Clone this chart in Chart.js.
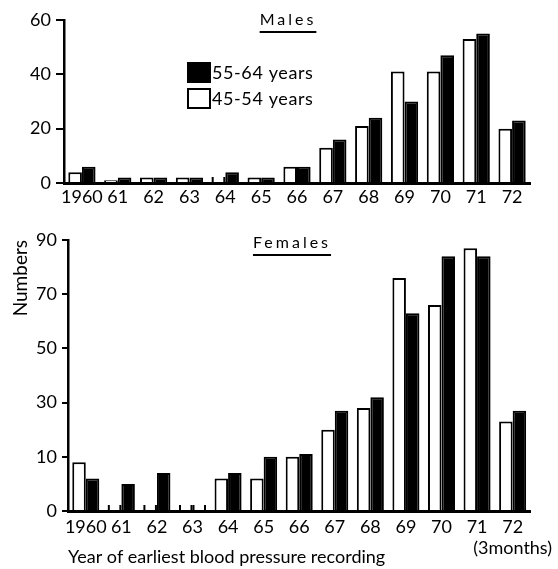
<!DOCTYPE html>
<html><head><meta charset="utf-8">
<script src="https://cdn.jsdelivr.net/npm/chart.js@4/dist/chart.umd.min.js"></script>
<style>
html,body{margin:0;padding:0;background:#fff;}
#wrap{position:relative;width:558px;height:569px;overflow:hidden;}
#male{position:absolute;left:0;top:0;}
#female{position:absolute;left:0;top:205px;}
</style></head><body>
<div id="wrap">
<canvas id="male" width="558" height="210"></canvas>
<canvas id="female" width="558" height="364"></canvas>
</div>
<script>
// ---- data ----
const years = ['1960','61','62','63','64','65','66','67','68','69','70','71','72'];
const lastYearNote = '(3months)';
const seriesLabels = ['45-54 years', '55-64 years'];
const male45 = [4, 1, 2, 2, 0, 2, 6, 13, 21, 41, 41, 53, 20];
const male55 = [6, 2, 2, 2, 4, 2, 6, 16, 24, 30, 47, 55, 23];
const female45 = [9, 0, 0, 0, 6, 6, 10, 20, 28, 76, 66, 87, 23];
const female55 = [6, 5, 7, 0, 7, 10, 11, 27, 32, 63, 84, 84, 27];
const maleTicks = [0, 20, 40, 60];
const femaleTicks = [0, 10, 30, 50, 70, 90];

// female axis in the original is evenly spaced between unevenly valued ticks
function toFemalePos(v) {
  for (let i = 0; i < femaleTicks.length - 1; i++) {
    if (v <= femaleTicks[i + 1]) return i + (v - femaleTicks[i]) / (femaleTicks[i + 1] - femaleTicks[i]);
  }
  return femaleTicks.length - 1;
}

const FONT = 'Lato, "Open Sans", sans-serif';
Chart.defaults.font.family = FONT;
Chart.defaults.color = '#000';
Chart.defaults.animation = false;

function titlePlugin(text, dy) {
  return {
    id: 'panelTitle',
    afterDraw(chart) {
      const ctx = chart.ctx, a = chart.chartArea;
      ctx.save();
      ctx.font = '16px ' + FONT;
      if ('letterSpacing' in ctx) ctx.letterSpacing = '3px';
      ctx.fillStyle = '#000';
      ctx.textAlign = 'center';
      ctx.textBaseline = 'middle';
      const cx = a.left + 224;
      const cy = a.top + dy;
      ctx.fillText(text, cx, cy);
      const w = ctx.measureText(text).width;
      ctx.strokeStyle = '#000';
      ctx.lineWidth = 2;
      ctx.beginPath();
      ctx.moveTo(cx - w / 2, cy + 12);
      ctx.lineTo(cx + w / 2, cy + 12);
      ctx.stroke();
      ctx.restore();
    }
  };
}

const legendPlugin = {
  id: 'boxLegend',
  afterDraw(chart) {
    const ctx = chart.ctx, a = chart.chartArea;
    const ds = chart.data.datasets.slice().reverse();
    ctx.save();
    ctx.font = '18px ' + FONT;
    if ('letterSpacing' in ctx) ctx.letterSpacing = '0.6px';
    ctx.textBaseline = 'middle';
    ctx.textAlign = 'left';
    ds.forEach((d, i) => {
      const x = a.left + 124, y = a.top + 43 + i * 26;
      ctx.fillStyle = d.backgroundColor;
      ctx.fillRect(x, y, 22, 19);
      ctx.strokeStyle = '#000';
      ctx.lineWidth = 2;
      ctx.strokeRect(x, y, 22, 19);
      ctx.fillStyle = '#000';
      ctx.fillText(d.label, x + 24, y + 10);
    });
    ctx.restore();
  }
};

// zero-valued bars are marked in the original by short stubs at the bar edges
const zeroStubPlugin = {
  id: 'zeroStubs',
  afterDatasetsDraw(chart) {
    const ctx = chart.ctx;
    ctx.save();
    ctx.strokeStyle = '#000';
    ctx.lineWidth = 2;
    chart.data.datasets.forEach((d, di) => {
      const meta = chart.getDatasetMeta(di);
      d.raw.forEach((v, i) => {
        if (v !== 0) return;
        const el = meta.data[i];
        const half = el.width / 2;
        [el.x - half + 1, el.x + half - 1].forEach(x => {
          ctx.beginPath();
          ctx.moveTo(x, el.base);
          ctx.lineTo(x, el.base - 6);
          ctx.stroke();
        });
      });
    });
    ctx.restore();
  }
};

function barSets(a, b, tf) {
  return [
    { label: seriesLabels[0], data: a.map(tf), raw: a, backgroundColor: '#fff', borderColor: '#000', borderWidth: 2,
      categoryPercentage: 0.76, barPercentage: 1.0 },
    { label: seriesLabels[1], data: b.map(tf), raw: b, backgroundColor: '#000', borderColor: '#000', borderWidth: 2,
      categoryPercentage: 0.76, barPercentage: 1.0 }
  ];
}

const tickFont = { size: 18, family: FONT };

new Chart(document.getElementById('male'), {
  type: 'bar',
  data: { labels: years, datasets: barSets(male45, male55, v => v) },
  options: {
    responsive: false,
    layout: { padding: { left: 0, right: 28, top: 20, bottom: 0 } },
    plugins: { legend: { display: false }, tooltip: { enabled: false } },
    scales: {
      x: {
        grid: { display: false, drawTicks: false },
        border: { display: true, color: '#000', width: 3 },
        ticks: { font: tickFont, padding: 3, maxRotation: 0, autoSkip: false },
        afterFit(s) { s.height = 27; }
      },
      y: {
        min: 0, max: maleTicks[maleTicks.length - 1],
        afterBuildTicks(s) { s.ticks = maleTicks.map(v => ({ value: v })); },
        grid: { drawOnChartArea: false, drawTicks: true, tickLength: 8, color: '#000', lineWidth: 2 },
        border: { display: true, color: '#000', width: 2.5 },
        ticks: { font: tickFont, padding: 5 },
        afterFit(s) { s.width = 64; }
      }
    }
  },
  plugins: [titlePlugin('Males', 0), legendPlugin, zeroStubPlugin]
});

const femaleLabels = years.map((y, i) => i === years.length - 1 ? [y, lastYearNote] : y);

new Chart(document.getElementById('female'), {
  type: 'bar',
  data: { labels: femaleLabels, datasets: barSets(female45, female55, toFemalePos) },
  options: {
    responsive: false,
    layout: { padding: { left: 0, right: 24, top: 35, bottom: 0 } },
    plugins: { legend: { display: false }, tooltip: { enabled: false } },
    scales: {
      x: {
        grid: { display: false, drawTicks: false },
        border: { display: true, color: '#000', width: 3 },
        ticks: { font: tickFont, padding: 5, maxRotation: 0, autoSkip: false },
        title: { display: true, text: 'Year of earliest blood pressure recording', align: 'start',
                 font: { size: 18, family: FONT }, padding: { top: 4, bottom: 1 } },
        afterFit(s) { s.height = 58; }
      },
      y: {
        min: 0, max: femaleTicks.length - 1,
        ticks: { stepSize: 1, font: tickFont, padding: 5, callback: v => femaleTicks[v] },
        grid: { drawOnChartArea: false, drawTicks: true, tickLength: 6, color: '#000', lineWidth: 2 },
        border: { display: true, color: '#000', width: 2.5 },
        title: { display: true, text: 'Numbers', align: 'end', font: { size: 19, family: FONT }, padding: { top: 9 } },
        afterFit(s) { s.width = 68; }
      }
    }
  },
  plugins: [titlePlugin('Females', 3), zeroStubPlugin]
});
</script>
</body></html>
